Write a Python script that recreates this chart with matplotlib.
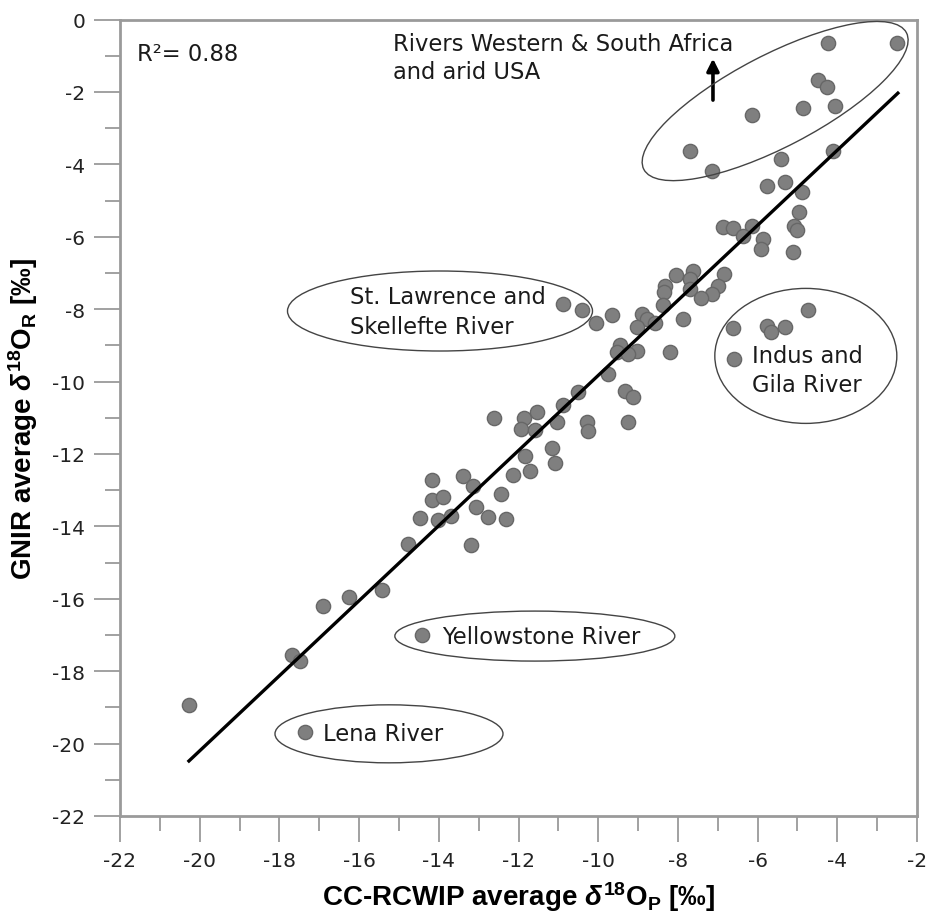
import matplotlib
matplotlib.use("Agg")
import matplotlib.pyplot as plt
from matplotlib.patches import Ellipse
from matplotlib.transforms import IdentityTransform
from matplotlib.ticker import MultipleLocator
import numpy as np

# ---- data ----
x_vals = [-4.24, -2.49, -4.49, -4.27, -6.13, -4.85, -4.07, -7.70, -7.15, -5.42, -4.10, -5.77, -5.31, -4.89,
          -4.96, -5.08, -5.02, -5.10, -6.86, -6.61, -6.15, -6.36, -5.86, -5.91,
          -8.05, -7.63, -7.70, -8.32, -8.35, -7.70, -6.84, -6.99, -7.15, -7.43, -8.37, -9.66, -8.91, -8.78,
          -9.03, -8.57, -7.86, -9.45, -9.03, -9.54, -9.24, -8.21, -9.75, -9.33, -9.12, -9.24,
          -10.88, -10.40, -10.06,
          -4.73, -6.61, -5.77, -5.67, -5.30, -6.58,
          -10.50, -10.88, -12.61, -11.86, -11.54, -11.94, -11.59, -11.04, -10.27, -10.25, -11.17, -11.84,
          -11.08, -11.71, -12.13, -14.18, -13.40, -13.13, -12.44, -14.18, -13.89, -14.47, -14.01, -13.70,
          -13.07, -12.76, -12.31, -14.78, -13.20, -15.43, -16.25, -16.91, -14.43, -17.69, -17.48, -20.27, -17.36]
y_vals = [-0.65, -0.65, -1.67, -1.87, -2.63, -2.45, -2.38, -3.62, -4.19, -3.85, -3.62, -4.59, -4.48, -4.75,
          -5.32, -5.69, -5.80, -6.43, -5.74, -5.77, -5.69, -5.97, -6.06, -6.34,
          -7.05, -6.94, -7.17, -7.37, -7.53, -7.44, -7.03, -7.35, -7.58, -7.70, -7.88, -8.16, -8.13, -8.27,
          -8.50, -8.38, -8.27, -8.99, -9.15, -9.19, -9.24, -9.17, -9.79, -10.25, -10.43, -11.11,
          -7.86, -8.01, -8.38,
          -8.01, -8.53, -8.46, -8.64, -8.48, -9.38,
          -10.30, -10.65, -11.01, -11.01, -10.85, -11.31, -11.33, -11.12, -11.11, -11.36, -11.84, -12.06,
          -12.25, -12.46, -12.58, -12.71, -12.62, -12.89, -13.10, -13.27, -13.20, -13.78, -13.81, -13.70,
          -13.47, -13.73, -13.80, -14.49, -14.51, -15.75, -15.96, -16.19, -17.00, -17.55, -17.71, -18.93, -19.69]

fit_slope = 1.037
fit_intercept = 0.54
fit_x_range = [-20.27, -2.48]

r2_text = "R²= 0.88"
x_ticks = list(range(-22, -1, 2))
y_ticks = list(range(-22, 1, 2))

# ---- style ----
plt.rcParams['font.family'] = ['DejaVu Sans']
plt.rcParams['axes.unicode_minus'] = False
plt.rcParams['mathtext.fontset'] = 'custom'
plt.rcParams['mathtext.rm'] = 'Liberation Sans:bold'
plt.rcParams['mathtext.it'] = 'Liberation Sans:italic:bold'
plt.rcParams['mathtext.bf'] = 'Liberation Sans:bold'

fig = plt.figure(figsize=(9.31, 9.20), dpi=100)
W, H = 931, 920
ax = fig.add_axes([120 / W, 1 - 817 / H, (917 - 120) / W, (817 - 20.6) / H])
ax.set_xlim(-22, -2)
ax.set_ylim(-22, 0)

axis_grey = '#9a9a9a'
for s in ax.spines.values():
    s.set_color(axis_grey)
    s.set_linewidth(2.0)

ax.xaxis.set_minor_locator(MultipleLocator(1))
ax.yaxis.set_minor_locator(MultipleLocator(1))
ax.set_xticks(x_ticks)
ax.set_yticks(y_ticks)
ax.set_xticklabels([str(v) for v in x_ticks])
ax.set_yticklabels([str(v) for v in y_ticks])
ax.tick_params(which='major', direction='out', length=19, width=1.3, color=axis_grey,
               labelsize=14.5, pad=6, labelcolor='#222222')
ax.tick_params(which='minor', direction='out', length=11, width=1.3, color=axis_grey)

# scatter
ax.scatter(x_vals, y_vals, s=105, c='#7f7f7f', edgecolors='#676767', linewidths=1.0, zorder=3)

# regression line
xx = np.array(fit_x_range)
ax.plot(xx, fit_slope * xx + fit_intercept, color='black', lw=2.4, zorder=4)

# labels
lab_kw = dict(fontsize=20, fontweight='bold', family='Liberation Sans')
ax.set_xlabel(r'CC-RCWIP average $\mathit{\delta}^{18}$O$_\mathrm{P}$ [‰]', labelpad=7, **lab_kw)
ax.set_ylabel(r'GNIR average $\mathit{\delta}^{18}$O$_\mathrm{R}$ [‰]', labelpad=9, **lab_kw)

txt_kw = dict(fontsize=16.3, color='#1a1a1a', ha='left', va='center', zorder=5)
ax.text(-21.57, -0.95, r2_text, **txt_kw)
ax.text(-15.15, -0.67, 'Rivers Western & South Africa', **txt_kw)
ax.text(-15.15, -1.42, 'and arid USA', **txt_kw)
ax.text(-16.23, -7.66, 'St. Lawrence and', **txt_kw)
ax.text(-16.23, -8.49, 'Skellefte River', **txt_kw)
ax.text(-6.14, -9.27, 'Indus and', **txt_kw)
ax.text(-6.14, -10.09, 'Gila River', **txt_kw)
ax.text(-13.92, -17.03, 'Yellowstone River', **txt_kw)
ax.text(-16.91, -19.73, 'Lena River', **txt_kw)

ax.annotate('', xy=(-7.12, -1.0), xytext=(-7.12, -2.3),
            arrowprops=dict(arrowstyle='-|>', lw=2.6, color='black', mutation_scale=18), zorder=5)

# ellipses (center in data coords, size in pixels)
fig.canvas.draw()
ellipses = [
    ((-5.56, -2.25), 296, 92, 27.5),
    ((-13.97, -8.05), 305, 80, 0),
    ((-4.79, -9.29), 182, 135, 0),
    ((-11.59, -17.03), 280, 50, 0),
    ((-15.25, -19.73), 228, 58, 0),
]
for (cx, cy), w, h, ang in ellipses:
    px, py = ax.transData.transform((cx, cy))
    e = Ellipse((px, py), w, h, angle=ang, transform=IdentityTransform(),
                fill=False, edgecolor='#444444', lw=1.0, zorder=2)
    fig.add_artist(e)

fig.savefig('out.png', dpi=100)
